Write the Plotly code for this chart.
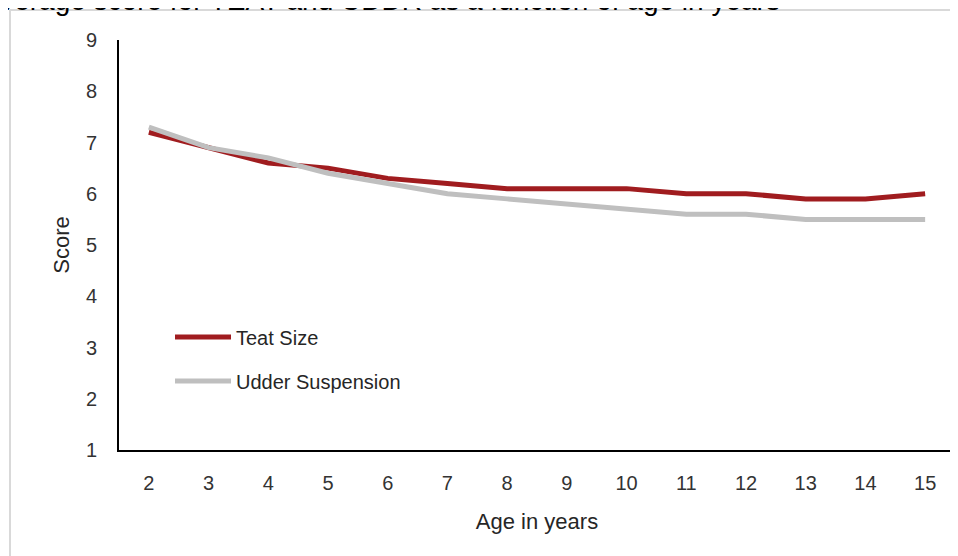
import plotly.graph_objects as go

ages = [2, 3, 4, 5, 6, 7, 8, 9, 10, 11, 12, 13, 14, 15]
teat_size = [7.2, 6.9, 6.6, 6.5, 6.3, 6.2, 6.1, 6.1, 6.1, 6.0, 6.0, 5.9, 5.9, 6.0]
udder_suspension = [7.3, 6.9, 6.7, 6.4, 6.2, 6.0, 5.9, 5.8, 5.7, 5.6, 5.6, 5.5, 5.5, 5.5]

FONT = "Liberation Sans, Arial, sans-serif"
OFF = 8  # page body margin
W, H = 950, 548
# plot area in page pixels: x 119..955, y 40..450
L, T = 119 - OFF, 40 - OFF
R, B = W - (955 - OFF), H - (450 - OFF)
pw, ph = W - L - R, H - T - B


def px_x(x):
    return (x - OFF - L) / pw


def px_y(y):
    return (H - B - (y - OFF)) / ph


fig = go.Figure()
fig.add_trace(go.Scatter(x=[str(a) for a in ages], y=teat_size, mode="lines", name="Teat Size",
                         line=dict(color="#A01C1F", width=5), legend="legend"))
fig.add_trace(go.Scatter(x=[str(a) for a in ages], y=udder_suspension, mode="lines", name="Udder Suspension",
                         line=dict(color="#BFBFBF", width=5), legend="legend2"))

# outer chart frame (only top and left edges show in the original)
frame = dict(type="line", xref="paper", yref="paper", line=dict(color="#D9D9D9", width=2), layer="below")
fig.add_shape(frame, x0=px_x(10), x1=px_x(1000), y0=px_y(10), y1=px_y(10))
fig.add_shape(frame, x0=px_x(10), x1=px_x(10), y0=px_y(10), y1=px_y(700))

# cropped title
fig.add_annotation(text="Average score for TEAT and UDDR as a function of age in years",
                   xref="paper", yref="paper", x=px_x(782), y=px_y(1),
                   xanchor="right", yanchor="middle", showarrow=False,
                   font=dict(family=FONT, size=28, color="#000000"))

leg = dict(bgcolor="rgba(0,0,0,0)", font=dict(family=FONT, size=20, color="#262626"),
           itemwidth=56, xanchor="left", yanchor="middle")
fig.update_layout(
    width=W, height=H,
    margin=dict(l=L, r=R, t=T, b=B),
    paper_bgcolor="white", plot_bgcolor="white",
    font=dict(family=FONT, size=20, color="#333333"),
    showlegend=True,
    legend=dict(leg, x=px_x(170), y=px_y(337)),
    legend2=dict(leg, x=px_x(170), y=px_y(381)),
    xaxis=dict(type="category", range=[-0.5, 13.5], showgrid=False, showline=True,
               linecolor="#000000", linewidth=2, ticks="", ticklabelstandoff=14,
               title=dict(text="Age in years", font=dict(size=22, color="#262626"), standoff=21)),
    yaxis=dict(range=[1, 9], dtick=1, showgrid=False, showline=True, zeroline=False,
               linecolor="#000000", linewidth=2, ticks="", ticklabelstandoff=16,
               title=dict(text="Score", font=dict(size=22, color="#262626"), standoff=10)),
)

fig.write_html("out.html")
